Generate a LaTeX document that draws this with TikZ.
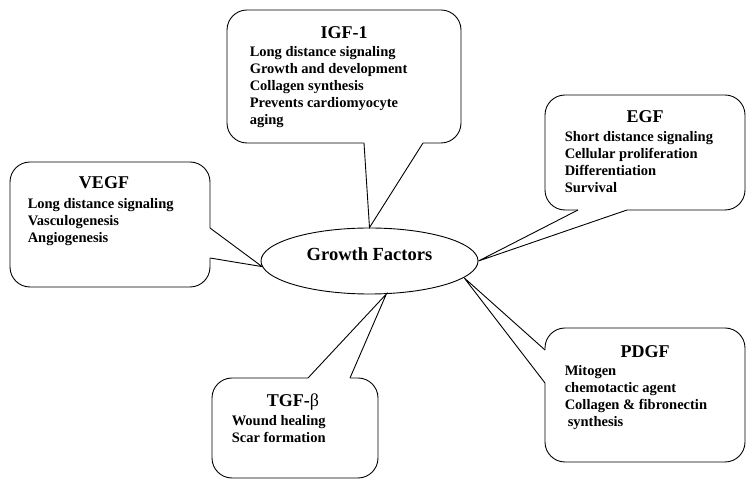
\documentclass[tikz,border=0pt]{standalone}
\usepackage{fontspec}
\setmainfont{Liberation Serif}
\usetikzlibrary{positioning,calc,shapes.geometric}
\tikzstyle{tailline} = [line width=0.9pt, line join=miter]

\begin{document}
\begin{tikzpicture}[
        x=1pt, y=1pt,
        bubble/.style={
            rectangle,
            rounded corners=20pt,
            draw=black,
            line width=0.9pt,
            inner sep=0pt
        },
        hub/.style={
            ellipse,
            draw=black,
            line width=0.9pt,
            minimum width=217pt,
            minimum height=66pt,
            text depth=13pt,
            font=\fontsize{18.5}{20}\selectfont\bfseries
        },
        heading/.style={inner sep=0pt, font=\fontsize{18}{20}\selectfont\bfseries},
        itemlist/.style={inner sep=0pt, align=left, font=\fontsize{14.5}{17}\selectfont\bfseries}
    ]
    \useasboundingbox (0,0) rectangle (756,490);

    % callout boxes
    \node[bubble, minimum width=234pt, minimum height=133pt] (igf) at (344,413.5) {};
    \node[bubble, minimum width=200pt, minimum height=115pt] (egf) at (645,337.5) {};
    \node[bubble, minimum width=200pt, minimum height=125pt] (vegf) at (110,265.5) {};
    \node[bubble, minimum width=166pt, minimum height=100pt] (tgf) at (295,62) {};
    \node[bubble, minimum width=200pt, minimum height=134pt] (pdgf) at (645,95) {};

    \node[hub] (hub) at (369.5,229) {Growth Factors};

    % texts
    \node[heading, below=17pt of igf.north] (igf-title) {IGF-1};
    \node[itemlist, below right=37pt and 23pt of igf.north west] (igf-text)
        {Long distance signaling\\Growth and development\\Collagen synthesis\\Prevents cardiomyocyte\\aging};

    \node[heading, below=16pt of egf.north] (egf-title) {EGF};
    \node[itemlist, below right=37pt and 20pt of egf.north west] (egf-text)
        {Short distance signaling\\Cellular proliferation\\Differentiation\\Survival};

    \node[heading, below=15pt of vegf.north, xshift=-6pt] (vegf-title) {VEGF};
    \node[itemlist, below right=37pt and 18pt of vegf.north west] (vegf-text)
        {Long distance signaling\\Vasculogenesis\\Angiogenesis};

    \node[heading, below=16pt of tgf.north, xshift=-2pt] (tgf-title) {TGF-\textmd{β}};
    \node[itemlist, below right=38pt and 20pt of tgf.north west] (tgf-text)
        {Wound healing\\Scar formation};

    \node[heading, below=18pt of pdgf.north] (pdgf-title) {PDGF};
    \node[itemlist, below right=38pt and 20pt of pdgf.north west] (pdgf-text)
        {Mitogen\\chemotactic agent\\Collagen \& fibronectin\\\hspace{3pt}synthesis};

    % pointer tails
    \coordinate (igf-b1) at (364,347);
    \coordinate (igf-b2) at (423,347);
    \coordinate (egf-b1) at (578,280);
    \coordinate (egf-b2) at (627,280);
    \coordinate (vegf-b1) at (210,262);
    \coordinate (vegf-b2) at (210,232);
    \coordinate (tgf-b1) at (308,112);
    \coordinate (tgf-b2) at (350,112);
    \coordinate (pdgf-b1) at (545,140);
    \coordinate (pdgf-b2) at (545,107);

    \fill[white] ($(igf-b1)+(0,2)$) -- (igf-b1) -- (hub.north) -- (igf-b2) -- ($(igf-b2)+(0,2)$) -- cycle;
    \draw[tailline] (igf-b1) -- (hub.north) -- (igf-b2);

    \fill[white] ($(egf-b1)+(0,2)$) -- (egf-b1) -- (hub.east) -- (egf-b2) -- ($(egf-b2)+(0,2)$) -- cycle;
    \draw[tailline] (egf-b1) -- (hub.east) -- (egf-b2);

    \fill[white] ($(vegf-b1)+(-2,0)$) -- (vegf-b1) -- (hub.183) -- (vegf-b2) -- ($(vegf-b2)+(-2,0)$) -- cycle;
    \draw[tailline] (vegf-b1) -- (hub.183) -- (vegf-b2);

    \fill[white] ($(tgf-b1)+(0,-2)$) -- (tgf-b1) -- (hub.-63) -- (tgf-b2) -- ($(tgf-b2)+(0,-2)$) -- cycle;
    \draw[tailline] (tgf-b1) -- (hub.-63) -- (tgf-b2);

    \fill[white] ($(pdgf-b1)+(2,0)$) -- (pdgf-b1) -- (hub.-10) -- (pdgf-b2) -- ($(pdgf-b2)+(2,0)$) -- cycle;
    \draw[tailline] (pdgf-b1) -- (hub.-10) -- (pdgf-b2);

\end{tikzpicture}
\end{document}
